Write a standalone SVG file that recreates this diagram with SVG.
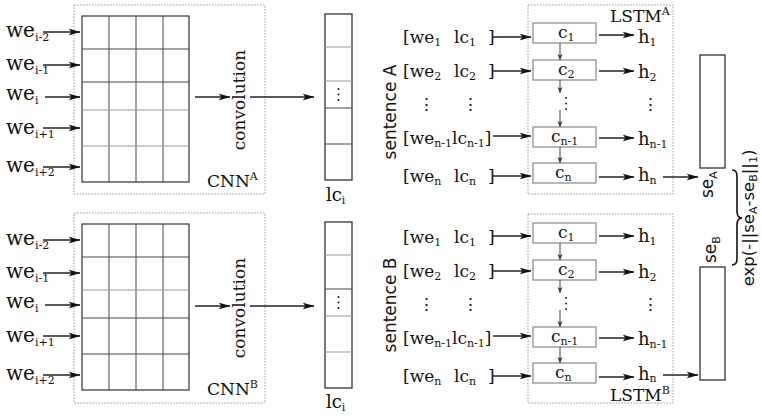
<svg xmlns="http://www.w3.org/2000/svg" width="762" height="417" viewBox="0 0 762 417">
<defs>
<marker id="ah" markerWidth="12" markerHeight="8" refX="11.5" refY="4" orient="auto" markerUnits="userSpaceOnUse"><path d="M0,0.5 L12,4 L0,7.5 L3,4 z" fill="#111"/></marker>
<marker id="sh" markerWidth="6" markerHeight="6" refX="6" refY="3" orient="auto" markerUnits="userSpaceOnUse"><path d="M0,0.5 L6,3 L0,5.5 L1.5,3 z" fill="#333"/></marker>
</defs>
<style>
.s{font-family:"DejaVu Serif",serif;fill:#111}
.ss{font-family:"DejaVu Sans",sans-serif;fill:#111}
.f17{font-size:17px}
.sub{font-size:11px}
.dot{fill:none;stroke:#999;stroke-width:1;stroke-dasharray:1.5 1.5}
.grid{fill:none;stroke:#333;stroke-width:1.2}
.gl{stroke:#444;stroke-width:1}
.gl2{stroke:#999;stroke-width:1}
.cbox{fill:#fff;stroke:#888;stroke-width:1.2}
.ar{stroke:#222;stroke-width:1.3;fill:none;marker-end:url(#ah)}
.sa{stroke:#444;stroke-width:1;fill:none;marker-end:url(#sh)}
.box{fill:#fff;stroke:#333;stroke-width:1.3}
</style>

<!-- CNN A -->
<g id="cnnA">
<rect class="dot" x="74" y="5" width="191" height="189"/>
<rect class="grid" x="82" y="16" width="107" height="166"/>
<line class="gl" x1="109" y1="16" x2="109" y2="182"/><line class="gl" x1="136" y1="16" x2="136" y2="182"/><line class="gl" x1="163" y1="16" x2="163" y2="182"/>
<line class="gl" x1="82" y1="49" x2="189" y2="49"/><line class="gl" x1="82" y1="82" x2="189" y2="82"/><line class="gl2" x1="82" y1="110" x2="189" y2="110"/><line class="gl2" x1="82" y1="146" x2="189" y2="146"/>
<text class="s f17" x="207" y="187">CNN<tspan class="sub" dy="-7">A</tspan></text>
<text class="s" font-size="17" transform="translate(245,100) rotate(-90)" text-anchor="middle">convolution</text>
</g>
<g id="inA">
<text class="s" font-size="20" x="6" y="37">we<tspan class="sub" font-size="12" dy="4">i-2</tspan></text>
<text class="s" font-size="20" x="6" y="70">we<tspan class="sub" font-size="12" dy="4">i-1</tspan></text>
<text class="s" font-size="20" x="6" y="100">we<tspan class="sub" font-size="12" dy="4">i</tspan></text>
<text class="s" font-size="20" x="6" y="134">we<tspan class="sub" font-size="12" dy="4">i+1</tspan></text>
<text class="s" font-size="20" x="6" y="172">we<tspan class="sub" font-size="12" dy="4">i+2</tspan></text>
</g>
<g id="lcA">
<rect class="box" x="325" y="14" width="27" height="166"/>
<line class="gl2" x1="325" y1="47" x2="352" y2="47"/><line class="gl2" x1="325" y1="81" x2="352" y2="81"/><line class="gl" x1="325" y1="108" x2="352" y2="108"/><line class="gl" x1="325" y1="144" x2="352" y2="144"/>
<circle cx="338.5" cy="89" r="1" fill="#111"/><circle cx="338.5" cy="94.5" r="1" fill="#111"/><circle cx="338.5" cy="100" r="1" fill="#111"/>
<text class="s" font-size="18" x="326" y="201">lc<tspan class="sub" font-size="11" dy="3">i</tspan></text>
</g>

<!-- CNN B -->
<g id="cnnB">
<rect class="dot" x="74" y="213" width="191" height="190"/>
<rect class="grid" x="82" y="224" width="107" height="166"/>
<line class="gl" x1="109" y1="224" x2="109" y2="390"/><line class="gl" x1="136" y1="224" x2="136" y2="390"/><line class="gl" x1="163" y1="224" x2="163" y2="390"/>
<line class="gl" x1="82" y1="257" x2="189" y2="257"/><line class="gl2" x1="82" y1="290" x2="189" y2="290"/><line class="gl" x1="82" y1="318" x2="189" y2="318"/><line class="gl" x1="82" y1="354" x2="189" y2="354"/>
<text class="s f17" x="207" y="395">CNN<tspan class="sub" dy="-7">B</tspan></text>
<text class="s" font-size="17" transform="translate(245,308) rotate(-90)" text-anchor="middle">convolution</text>
</g>
<g id="inB">
<text class="s" font-size="20" x="6" y="245">we<tspan class="sub" font-size="12" dy="4">i-2</tspan></text>
<text class="s" font-size="20" x="6" y="278">we<tspan class="sub" font-size="12" dy="4">i-1</tspan></text>
<text class="s" font-size="20" x="6" y="308">we<tspan class="sub" font-size="12" dy="4">i</tspan></text>
<text class="s" font-size="20" x="6" y="342">we<tspan class="sub" font-size="12" dy="4">i+1</tspan></text>
<text class="s" font-size="20" x="6" y="380">we<tspan class="sub" font-size="12" dy="4">i+2</tspan></text>
</g>
<g id="lcB">
<rect class="box" x="325" y="222" width="27" height="166"/>
<line class="gl2" x1="325" y1="255" x2="352" y2="255"/><line class="gl" x1="325" y1="289" x2="352" y2="289"/><line class="gl2" x1="325" y1="316" x2="352" y2="316"/><line class="gl2" x1="325" y1="352" x2="352" y2="352"/>
<circle cx="338.5" cy="297" r="1" fill="#111"/><circle cx="338.5" cy="302.5" r="1" fill="#111"/><circle cx="338.5" cy="308" r="1" fill="#111"/>
<text class="s" font-size="18" x="326" y="408">lc<tspan class="sub" font-size="11" dy="3">i</tspan></text>
</g>

<!-- sentence A inputs -->
<g id="sentA">
<text class="ss" font-size="17" transform="translate(396,112) rotate(-90)" text-anchor="middle">sentence A</text>
<text class="s f17" y="43"><tspan x="403">[we</tspan><tspan class="sub" dy="3">1</tspan><tspan x="454" dy="-3">lc</tspan><tspan class="sub" dy="3">1</tspan><tspan x="488" dy="-3">]</tspan></text>
<text class="s f17" y="77"><tspan x="403">[we</tspan><tspan class="sub" dy="3">2</tspan><tspan x="454" dy="-3">lc</tspan><tspan class="sub" dy="3">2</tspan><tspan x="488" dy="-3">]</tspan></text>
<text class="s f17" x="418" y="110">⋮</text><text class="s f17" x="462" y="110">⋮</text>
<text class="s f17" y="144"><tspan x="403">[we</tspan><tspan class="sub" dy="3">n-1</tspan><tspan dy="-3">lc</tspan><tspan class="sub" dy="3">n-1</tspan><tspan dy="-3">]</tspan></text>
<text class="s f17" y="182"><tspan x="403">[we</tspan><tspan class="sub" dy="3">n</tspan><tspan x="454" dy="-3">lc</tspan><tspan class="sub" dy="3">n</tspan><tspan x="488" dy="-3">]</tspan></text>
</g>
<g id="lstmA">
<rect class="dot" x="528" y="5" width="145" height="189"/>
<text class="s f17" x="610" y="22">LSTM<tspan class="sub" dy="-7">A</tspan></text>
<rect class="cbox" x="533" y="23" width="63" height="20"/>
<rect class="cbox" x="533" y="60" width="63" height="20"/>
<rect class="cbox" x="533" y="127" width="63" height="20"/>
<rect class="cbox" x="533" y="163" width="63" height="20"/>
<text class="s" font-size="17" x="558" y="38">c<tspan class="sub" dy="3">1</tspan></text>
<text class="s" font-size="17" x="558" y="75">c<tspan class="sub" dy="3">2</tspan></text>
<text class="s" font-size="17" x="551" y="142">c<tspan class="sub" dy="3">n-1</tspan></text>
<text class="s" font-size="17" x="555" y="178">c<tspan class="sub" dy="3">n</tspan></text>
<circle cx="566" cy="98" r="0.9" fill="#111"/><circle cx="566" cy="103.5" r="0.9" fill="#111"/><circle cx="566" cy="109" r="0.9" fill="#111"/>
<text class="s" font-size="18" x="638" y="43">h<tspan class="sub" dy="3">1</tspan></text>
<text class="s" font-size="18" x="638" y="78">h<tspan class="sub" dy="3">2</tspan></text>
<text class="s" font-size="17" x="642" y="110">⋮</text>
<text class="s" font-size="18" x="638" y="145">h<tspan class="sub" dy="3">n-1</tspan></text>
<text class="s" font-size="18" x="638" y="181">h<tspan class="sub" dy="3">n</tspan></text>
</g>

<!-- sentence B -->
<g id="sentB">
<text class="ss" font-size="17" transform="translate(396,305) rotate(-90)" text-anchor="middle">sentence B</text>
<text class="s f17" y="243"><tspan x="403">[we</tspan><tspan class="sub" dy="3">1</tspan><tspan x="454" dy="-3">lc</tspan><tspan class="sub" dy="3">1</tspan><tspan x="488" dy="-3">]</tspan></text>
<text class="s f17" y="277"><tspan x="403">[we</tspan><tspan class="sub" dy="3">2</tspan><tspan x="454" dy="-3">lc</tspan><tspan class="sub" dy="3">2</tspan><tspan x="488" dy="-3">]</tspan></text>
<text class="s f17" x="418" y="310">⋮</text><text class="s f17" x="462" y="310">⋮</text>
<text class="s f17" y="344"><tspan x="403">[we</tspan><tspan class="sub" dy="3">n-1</tspan><tspan dy="-3">lc</tspan><tspan class="sub" dy="3">n-1</tspan><tspan dy="-3">]</tspan></text>
<text class="s f17" y="382"><tspan x="403">[we</tspan><tspan class="sub" dy="3">n</tspan><tspan x="454" dy="-3">lc</tspan><tspan class="sub" dy="3">n</tspan><tspan x="488" dy="-3">]</tspan></text>
</g>
<g id="lstmB">
<rect class="dot" x="528" y="214" width="145" height="189"/>
<text class="s f17" x="610" y="401">LSTM<tspan class="sub" dy="-7">B</tspan></text>
<rect class="cbox" x="533" y="223" width="63" height="20"/>
<rect class="cbox" x="533" y="260" width="63" height="20"/>
<rect class="cbox" x="533" y="327" width="63" height="20"/>
<rect class="cbox" x="533" y="363" width="63" height="20"/>
<text class="s" font-size="17" x="558" y="238">c<tspan class="sub" dy="3">1</tspan></text>
<text class="s" font-size="17" x="558" y="275">c<tspan class="sub" dy="3">2</tspan></text>
<text class="s" font-size="17" x="551" y="342">c<tspan class="sub" dy="3">n-1</tspan></text>
<text class="s" font-size="17" x="555" y="378">c<tspan class="sub" dy="3">n</tspan></text>
<circle cx="566" cy="298" r="0.9" fill="#111"/><circle cx="566" cy="303.5" r="0.9" fill="#111"/><circle cx="566" cy="309" r="0.9" fill="#111"/>
<text class="s" font-size="18" x="638" y="242">h<tspan class="sub" dy="3">1</tspan></text>
<text class="s" font-size="18" x="638" y="278">h<tspan class="sub" dy="3">2</tspan></text>
<text class="s" font-size="17" x="642" y="310">⋮</text>
<text class="s" font-size="18" x="638" y="345">h<tspan class="sub" dy="3">n-1</tspan></text>
<text class="s" font-size="18" x="638" y="380">h<tspan class="sub" dy="2">n</tspan></text>
</g>

<!-- sentence embeddings -->
<g id="seA">
<rect class="box" x="700" y="55" width="25" height="113"/>
<text class="ss" font-size="17" transform="translate(713,198) rotate(-90)">se<tspan font-size="11" dy="4">A</tspan></text>
</g>
<g id="seB">
<rect class="box" x="700" y="267" width="25" height="113"/>
<text class="ss" font-size="17" transform="translate(716,263) rotate(-90)">se<tspan font-size="11" dy="4">B</tspan></text>
</g>
<g id="sim">
<path d="M732,170 Q737,170 737,176 L737,211 Q737,218 742,218 Q737,218 737,225 L737,259 Q737,265 732,265" fill="none" stroke="#111" stroke-width="1.6"/>
<text class="ss" font-size="16.5" transform="translate(754,218) rotate(-90)" text-anchor="middle">exp(-||se<tspan font-size="11" dy="3">A</tspan><tspan dy="-3">-se</tspan><tspan font-size="11" dy="3">B</tspan><tspan dy="-3">||</tspan><tspan font-size="11" dy="3">1</tspan><tspan dy="-3">)</tspan></text>
</g>

<!-- connectors -->
<g id="connectors">
<line class="ar" x1="43" y1="32" x2="80" y2="32"/>
<line class="ar" x1="43" y1="65" x2="80" y2="65"/>
<line class="ar" x1="45" y1="97" x2="80" y2="97"/>
<line class="ar" x1="43" y1="128" x2="80" y2="128"/>
<line class="ar" x1="43" y1="167" x2="80" y2="167"/>
<line class="ar" x1="195" y1="97" x2="230" y2="97"/>
<line class="ar" x1="250" y1="97" x2="314" y2="97"/>
<line class="ar" x1="43" y1="240" x2="80" y2="240"/>
<line class="ar" x1="43" y1="273" x2="80" y2="273"/>
<line class="ar" x1="45" y1="305" x2="80" y2="305"/>
<line class="ar" x1="43" y1="336" x2="80" y2="336"/>
<line class="ar" x1="43" y1="375" x2="80" y2="375"/>
<line class="ar" x1="195" y1="306" x2="230" y2="306"/>
<line class="ar" x1="250" y1="306" x2="314" y2="306"/>

<line class="ar" x1="493" y1="37" x2="531" y2="37"/>
<line class="ar" x1="493" y1="71" x2="531" y2="71"/>
<line class="ar" x1="493" y1="136" x2="531" y2="136"/>
<line class="ar" x1="493" y1="176" x2="531" y2="176"/>
<line class="ar" x1="599" y1="35" x2="634" y2="35"/>
<line class="ar" x1="599" y1="71" x2="634" y2="71"/>
<line class="ar" x1="599" y1="138" x2="634" y2="138"/>
<line class="ar" x1="599" y1="177" x2="634" y2="177"/>
<line class="ar" x1="663" y1="177" x2="698" y2="177"/>
<line class="sa" x1="560" y1="43" x2="560" y2="60"/>
<line class="sa" x1="560" y1="80" x2="560" y2="93"/>
<line class="sa" x1="560" y1="110" x2="560" y2="127"/>
<line class="sa" x1="560" y1="147" x2="560" y2="163"/>

<line class="ar" x1="493" y1="236" x2="531" y2="236"/>
<line class="ar" x1="493" y1="271" x2="531" y2="271"/>
<line class="ar" x1="493" y1="336" x2="531" y2="336"/>
<line class="ar" x1="493" y1="376" x2="531" y2="376"/>
<line class="ar" x1="599" y1="236" x2="634" y2="236"/>
<line class="ar" x1="599" y1="272" x2="634" y2="272"/>
<line class="ar" x1="599" y1="338" x2="634" y2="338"/>
<line class="ar" x1="599" y1="377" x2="634" y2="377"/>
<line class="ar" x1="663" y1="375" x2="698" y2="375"/>
<line class="sa" x1="560" y1="243" x2="560" y2="260"/>
<line class="sa" x1="560" y1="280" x2="560" y2="293"/>
<line class="sa" x1="560" y1="310" x2="560" y2="327"/>
<line class="sa" x1="560" y1="347" x2="560" y2="363"/>
</g>
</svg>
